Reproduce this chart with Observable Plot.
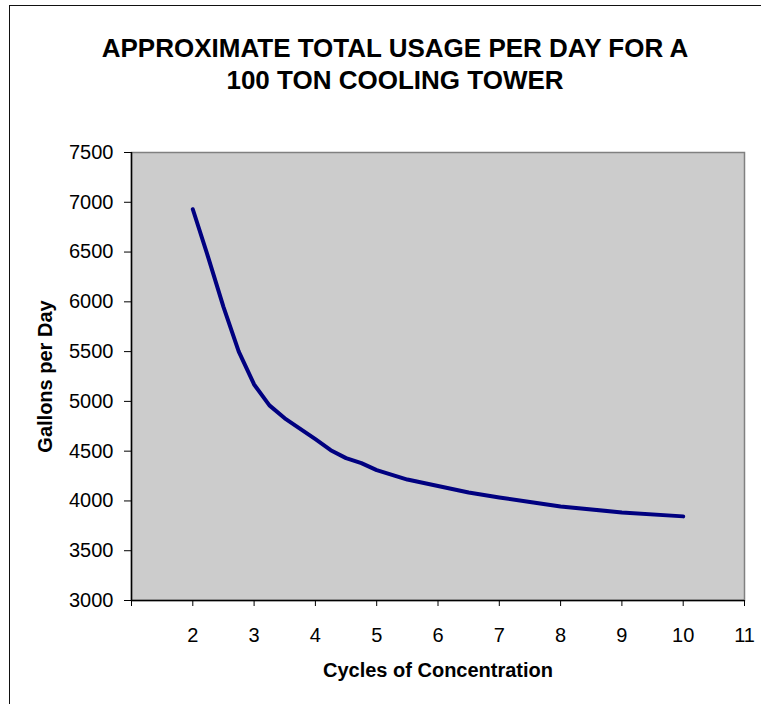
<!DOCTYPE html>
<html>
<head>
<meta charset="utf-8">
<script src="https://cdn.jsdelivr.net/npm/d3@7"></script>
<script src="https://cdn.jsdelivr.net/npm/@observablehq/plot@0.6"></script>
<style>
  html, body { margin: 0; padding: 0; background: #fff; overflow: hidden; }
  #wrap { position: relative; width: 761px; height: 704px; overflow: hidden; font-family: "Liberation Sans", Arial, sans-serif; }
  #frame { position: absolute; left: 9px; top: 5px; width: 900px; height: 900px; border-left: 1.5px solid #111; border-top: 1.5px solid #111; pointer-events: none; }
  #title { box-sizing: border-box; width: 761px; height: 120px; padding-top: 32px; padding-left: 29px; text-align: center; font-weight: bold; font-size: 26px; line-height: 32px; color: #000; }
  #chart svg { display: block; }
</style>
</head>
<body>
<div id="wrap">
  <div id="frame"></div>
  <div id="title">APPROXIMATE TOTAL USAGE PER DAY FOR A<br>100 TON COOLING TOWER</div>
  <div id="chart"></div>
</div>
<script>
const cycles  = [2, 2.25, 2.5, 2.75, 3, 3.25, 3.5, 4, 4.25, 4.5, 4.75, 5, 5.5, 6, 6.5, 7, 7.5, 8, 9, 10];
const gallons = [6930, 6450, 5950, 5500, 5170, 4960, 4830, 4620, 4510, 4430, 4380, 4310, 4215, 4150, 4085, 4035, 3990, 3945, 3885, 3845];
const xTicks = [1, 2, 3, 4, 5, 6, 7, 8, 9, 10, 11];
const yTicks = [3000, 3500, 4000, 4500, 5000, 5500, 6000, 6500, 7000, 7500];
const xLabel = "Cycles of Concentration";
const yLabel = "Gallons per Day";

const data = cycles.map((c, i) => ({c, g: gallons[i]}));

const chart = Plot.plot({
  width: 761,
  height: 584,
  marginTop: 32,
  marginLeft: 131,
  marginRight: 17,
  marginBottom: 104,
  style: {fontFamily: "'Liberation Sans', Arial, sans-serif", fontSize: "20px", color: "#000", background: "transparent", overflow: "visible"},
  x: {domain: [1, 11]},
  y: {domain: [3000, 7500]},
  marks: [
    Plot.frame({fill: "#cccccc", stroke: "#808080", strokeWidth: 1.5}),
    Plot.ruleX([1], {stroke: "#000", strokeWidth: 1.5}),
    Plot.ruleY([3000], {stroke: "#000", strokeWidth: 1.5}),
    Plot.axisX({ticks: xTicks, tickFormat: d => d === 1 ? "" : String(d), tickSize: 6, tickPadding: 21, label: null, fontSize: 20}),
    Plot.axisY({ticks: yTicks, tickFormat: d => String(d), tickSize: 7, tickPadding: 11, label: null, fontSize: 20}),
    Plot.line(data, {x: "c", y: "g", stroke: "#000080", strokeWidth: 4, strokeLinejoin: "round"}),
    Plot.text([yLabel], {frameAnchor: "left", dx: -86, rotate: -90, textAnchor: "middle", lineAnchor: "middle", fontWeight: "bold", fontSize: 20}),
    Plot.text([xLabel], {frameAnchor: "bottom", dy: 70, textAnchor: "middle", lineAnchor: "middle", fontWeight: "bold", fontSize: 20})
  ]
});
document.getElementById("chart").appendChild(chart);
</script>
</body>
</html>
